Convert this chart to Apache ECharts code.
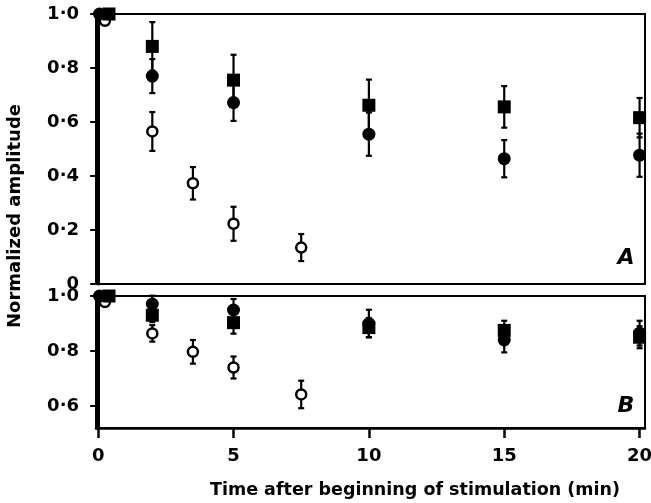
<!DOCTYPE html>
<html>
<head>
<meta charset="utf-8">
<script src="https://cdn.jsdelivr.net/npm/echarts@6/dist/echarts.min.js"></script>
<style>
  html, body { margin: 0; padding: 0; background: #fff; }
  #chart { width: 651px; height: 503px; }
</style>
</head>
<body>
<div id="chart"></div>
<script>
// x positions (min); the t=0 points are nudged apart as in the print
var xSquare = [0.4, 2, 5, 10, 15, 20];
var xCircle = [0.05, 2, 5, 10, 15, 20];
var xOpen = [0.25, 2, 3.5, 5, 7.5];

// panel A
var squareA = [1.0, 0.88, 0.755, 0.662, 0.656, 0.616];
var squareAErr = [0, 0.09, 0.094, 0.095, 0.077, 0.073];
var circleA = [1.0, 0.77, 0.672, 0.555, 0.464, 0.477];
var circleAErr = [0, 0.063, 0.068, 0.08, 0.069, 0.08];
var openA = [0.975, 0.565, 0.373, 0.223, 0.135];
var openAErr = [0, 0.072, 0.06, 0.063, 0.05];

// panel B
var squareB = [1.0, 0.93, 0.903, 0.885, 0.875, 0.85];
var squareBErr = [0, 0.025, 0.04, 0.035, 0.035, 0.04];
var circleB = [1.0, 0.971, 0.949, 0.9, 0.84, 0.865];
var circleBErr = [0, 0.03, 0.04, 0.05, 0.045, 0.045];
var openB = [0.978, 0.864, 0.797, 0.74, 0.642];
var openBErr = [0, 0.03, 0.043, 0.04, 0.05];

// ticks
var xTicks = [0, 5, 10, 15, 20];
var yTicksA = [0, 0.2, 0.4, 0.6, 0.8, 1.0];
var yTicksB = [0.6, 0.8, 1.0];

var INK = '#000';
var FONT = 'DejaVu Sans';

function pts(xs, ys) {
  return xs.map(function (x, i) { return [x, ys[i]]; });
}
function bars(xs, ys, es) {
  return xs.map(function (x, i) { return [x, ys[i] - es[i], ys[i] + es[i]]; });
}
function fmtTick(v) {
  if (v === 0) return '0';
  return v.toFixed(1).replace('.', '\u00b7');
}

// vertical error bar with short caps
function renderBar(params, api) {
  var x = api.value(0);
  var lo = api.coord([x, api.value(1)]);
  var hi = api.coord([x, api.value(2)]);
  if (Math.abs(hi[1] - lo[1]) < 1) return null;
  var st = { stroke: INK, lineWidth: 2.2 };
  return {
    type: 'group',
    children: [
      { type: 'line', shape: { x1: lo[0], y1: lo[1], x2: hi[0], y2: hi[1] }, style: st },
      { type: 'line', shape: { x1: hi[0] - 3, y1: hi[1], x2: hi[0] + 3, y2: hi[1] }, style: st },
      { type: 'line', shape: { x1: lo[0] - 3, y1: lo[1], x2: lo[0] + 3, y2: lo[1] }, style: st }
    ]
  };
}

function errSeries(idx, data) {
  return {
    type: 'custom', xAxisIndex: idx, yAxisIndex: idx,
    renderItem: renderBar, data: data, z: 2, silent: true
  };
}
function markSeries(idx, data, kind) {
  var s = {
    type: 'scatter', xAxisIndex: idx, yAxisIndex: idx, data: data,
    z: 3, silent: true
  };
  if (kind === 'open') {
    s.symbol = 'circle'; s.symbolSize = 10;
    s.itemStyle = { color: '#fff', borderColor: INK, borderWidth: 2.5, opacity: 1 };
  } else if (kind === 'circle') {
    s.symbol = 'circle'; s.symbolSize = 13; s.z = 4;
    s.itemStyle = { color: INK, opacity: 1 };
  } else {
    s.symbol = 'rect'; s.symbolSize = 13; s.z = 5;
    s.itemStyle = { color: INK, opacity: 1 };
  }
  return s;
}

var labelStyle = { color: INK, fontFamily: FONT, fontWeight: 'bold', fontSize: 18 };

var chart = echarts.init(document.getElementById('chart'));
chart.setOption({
  backgroundColor: '#fff',
  animation: false,
  grid: [
    { left: 96, right: 6, top: 14, height: 270, outerBoundsMode: 'none', containLabel: false,
      show: true, borderColor: INK, borderWidth: 2 },
    { left: 96, right: 6, top: 296, height: 132, outerBoundsMode: 'none', containLabel: false,
      show: true, borderColor: INK, borderWidth: 2 }
  ],
  xAxis: [
    {
      gridIndex: 0, type: 'value', min: -0.08, max: 20.2,
      axisLine: { show: false }, axisTick: { show: false },
      axisLabel: { show: false }, splitLine: { show: false }
    },
    {
      gridIndex: 1, type: 'value', min: -0.08, max: 20.2,
      axisLine: { show: true, lineStyle: { color: INK, width: 2.5 } },
      axisTick: { show: true, customValues: xTicks, length: 10, lineStyle: { color: INK, width: 2.5 } },
      axisLabel: Object.assign({ customValues: xTicks, margin: 19, formatter: function (v) { return String(v); } }, labelStyle),
      splitLine: { show: false }
    }
  ],
  yAxis: [
    {
      gridIndex: 0, type: 'value', min: 0, max: 1.0,
      axisLine: { show: true, lineStyle: { color: INK, width: 3 } },
      axisTick: { show: true, customValues: yTicksA, length: 8, lineStyle: { color: INK, width: 2 } },
      axisLabel: Object.assign({ customValues: yTicksA, margin: 17, formatter: fmtTick }, labelStyle),
      splitLine: { show: false }
    },
    {
      gridIndex: 1, type: 'value', min: 0.52, max: 1.0,
      axisLine: { show: true, lineStyle: { color: INK, width: 3 } },
      axisTick: { show: true, customValues: yTicksB, length: 8, lineStyle: { color: INK, width: 2 } },
      axisLabel: Object.assign({ customValues: yTicksB, margin: 17, formatter: fmtTick }, labelStyle),
      splitLine: { show: false }
    }
  ],
  graphic: [
    {
      type: 'text', x: 15, y: 216, rotation: Math.PI / 2,
      style: {
        text: 'Normalized amplitude', fill: INK, font: 'bold 18px "DejaVu Sans"',
        align: 'center', verticalAlign: 'middle'
      }
    },
    {
      type: 'text', x: 415, y: 490,
      style: {
        text: 'Time after beginning of stimulation (min)', fill: INK,
        font: 'bold 17.5px "DejaVu Sans"', align: 'center', verticalAlign: 'middle'
      }
    },
    {
      type: 'text', x: 626, y: 258,
      style: { text: 'A', fill: INK, font: 'italic bold 22px "DejaVu Sans"', align: 'center', verticalAlign: 'middle' }
    },
    {
      type: 'text', x: 626, y: 406,
      style: { text: 'B', fill: INK, font: 'italic bold 22px "DejaVu Sans"', align: 'center', verticalAlign: 'middle' }
    }
  ],
  series: [
    errSeries(0, bars(xOpen, openA, openAErr)),
    errSeries(0, bars(xCircle, circleA, circleAErr)),
    errSeries(0, bars(xSquare, squareA, squareAErr)),
    markSeries(0, pts(xOpen, openA), 'open'),
    markSeries(0, pts(xCircle, circleA), 'circle'),
    markSeries(0, pts(xSquare, squareA), 'square'),
    errSeries(1, bars(xOpen, openB, openBErr)),
    errSeries(1, bars(xCircle, circleB, circleBErr)),
    errSeries(1, bars(xSquare, squareB, squareBErr)),
    markSeries(1, pts(xOpen, openB), 'open'),
    markSeries(1, pts(xCircle, circleB), 'circle'),
    markSeries(1, pts(xSquare, squareB), 'square')
  ]
});
</script>
</body>
</html>
